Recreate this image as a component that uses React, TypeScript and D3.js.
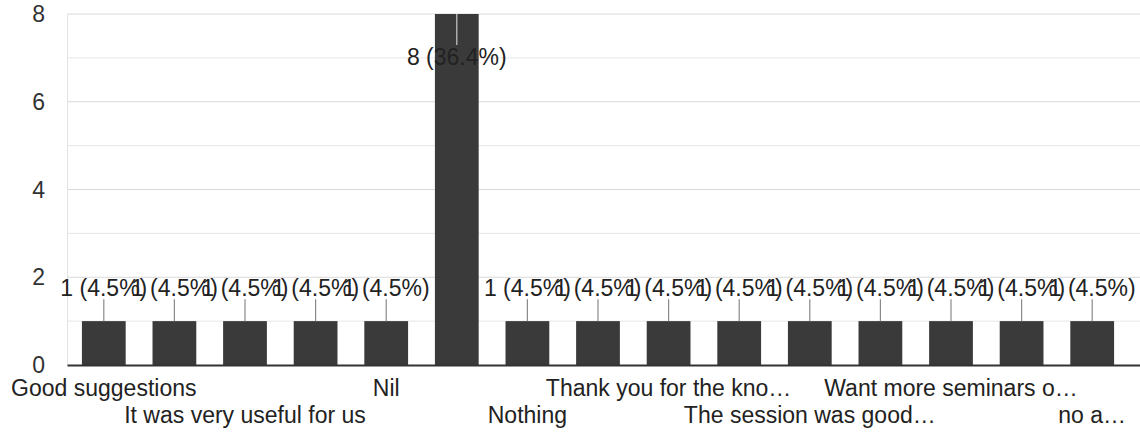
import React, { useEffect, useRef } from "react";
import * as d3 from "d3";

// answers in the order shown (alphabetical); hidden labels are not readable in the picture
const categories = [
  "Good suggestions",
  "",
  "It was very useful for us",
  "",
  "Nil",
  "",
  "Nothing",
  "",
  "Thank you for the kno…",
  "",
  "The session was good…",
  "",
  "Want more seminars o…",
  "",
  "no a…",
];
const counts = [1, 1, 1, 1, 1, 8, 1, 1, 1, 1, 1, 1, 1, 1, 1];
const yTicks = [0, 2, 4, 6, 8];
const yGrid = [1, 2, 3, 4, 5, 6, 7, 8];

export default function App() {
  const ref = useRef<SVGSVGElement | null>(null);

  useEffect(() => {
    const width = 1140;
    const height = 440;
    const left = 68.5;
    const right = 1127.5;
    const top = 14;
    const bottom = 365;
    const font = "'Liberation Sans', Arial, sans-serif";
    const total = d3.sum(counts);

    const svg = d3.select(ref.current);
    svg.selectAll("*").remove();
    svg
      .attr("width", width)
      .attr("height", height)
      .style("font-family", font);

    svg.append("rect").attr("width", width).attr("height", height).attr("fill", "#fff");

    const x = d3
      .scaleBand<number>()
      .domain(d3.range(categories.length))
      .range([left, right])
      .paddingInner(0.38)
      .paddingOuter(0.19);
    const y = d3.scaleLinear().domain([0, 8]).range([bottom, top]);

    // gridlines
    svg
      .append("g")
      .selectAll("line")
      .data(yGrid)
      .join("line")
      .attr("x1", left - 1)
      .attr("x2", width)
      .attr("y1", (d) => y(d))
      .attr("y2", (d) => y(d))
      .attr("stroke", (d) => (d % 2 === 0 ? "#d9d9d9" : "#e6e6e6"))
      .attr("stroke-width", 1);

    svg
      .append("line")
      .attr("x1", left - 1)
      .attr("x2", left - 1)
      .attr("y1", top)
      .attr("y2", bottom)
      .attr("stroke", "#e3e3e3");

    // y tick labels
    svg
      .append("g")
      .selectAll("text")
      .data(yTicks)
      .join("text")
      .attr("x", 45)
      .attr("y", (d) => y(d))
      .attr("dy", "0.35em")
      .attr("text-anchor", "end")
      .attr("font-size", 23)
      .attr("fill", "#333")
      .text((d) => d);

    // bars
    svg
      .append("g")
      .selectAll("rect")
      .data(counts)
      .join("rect")
      .attr("x", (_d, i) => x(i)!)
      .attr("width", x.bandwidth())
      .attr("y", (d) => y(d))
      .attr("height", (d) => y(0) - y(d))
      .attr("fill", "#3a3a3a");

    // baseline
    svg
      .append("line")
      .attr("x1", left - 1)
      .attr("x2", width)
      .attr("y1", bottom + 0.5)
      .attr("y2", bottom + 0.5)
      .attr("stroke", "#333")
      .attr("stroke-width", 2);

    // annotations with stems (flip inside the bar when there is no room above)
    const stem = 22;
    const ann = svg.append("g");
    counts.forEach((v, i) => {
      const cx = x(i)! + x.bandwidth() / 2;
      const barTop = y(v);
      const inside = barTop - stem - 26 < 0;
      ann
        .append("line")
        .attr("x1", cx)
        .attr("x2", cx)
        .attr("y1", barTop)
        .attr("y2", inside ? barTop + 31 : barTop - stem)
        .attr("stroke", inside ? "#c8c8c8" : "#8a8a8a")
        .attr("stroke-width", 1.2);
      ann
        .append("text")
        .attr("x", cx)
        .attr("y", inside ? barTop + 51 : barTop - stem - 3)
        .attr("text-anchor", "middle")
        .attr("font-size", 23)
        .attr("fill", "#222")
        .text(`${v} (${((v / total) * 100).toFixed(1)}%)`);
    });

    // category labels, every other one, staggered over two rows
    svg
      .append("g")
      .selectAll("text")
      .data(categories.map((c, i) => ({ c, i })).filter((d) => d.i % 2 === 0))
      .join("text")
      .attr("x", (d) => x(d.i)! + x.bandwidth() / 2)
      .attr("y", (d) => (d.i % 4 === 0 ? 396 : 423))
      .attr("text-anchor", "middle")
      .attr("font-size", 23)
      .attr("fill", "#222")
      .text((d) => d.c);
  }, []);

  return (
    <svg
      ref={ref}
      style={{ position: "absolute", left: 0, top: 0, display: "block" }}
    />
  );
}
